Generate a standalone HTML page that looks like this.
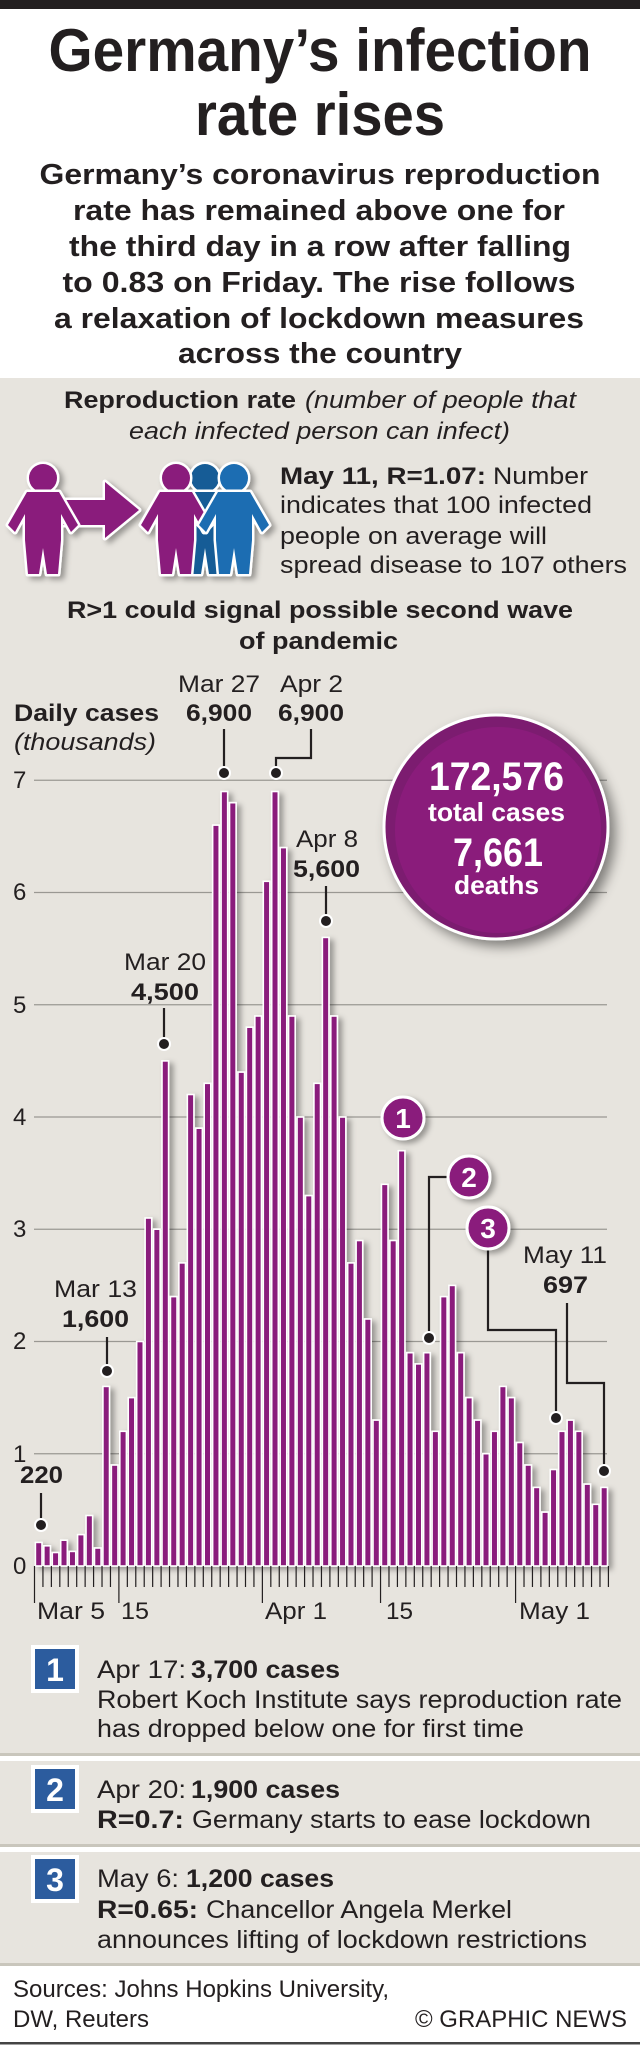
<!DOCTYPE html>
<html><head><meta charset="utf-8"><style>
html,body{margin:0;padding:0;background:#fff}
svg{display:block}
text{font-family:"Liberation Sans",Arial,sans-serif;fill:#231f20}
.b{font-weight:bold}
.i{font-style:italic}
</style></head><body>
<svg width="640" height="2052" viewBox="0 0 640 2052" xmlns="http://www.w3.org/2000/svg">
<defs>
<filter id="sh" x="-20%" y="-20%" width="140%" height="140%"><feDropShadow dx="4" dy="3" stdDeviation="3" flood-color="#000" flood-opacity="0.35"/></filter>
<filter id="sh2" x="-20%" y="-20%" width="150%" height="150%"><feDropShadow dx="6" dy="6" stdDeviation="6" flood-color="#000" flood-opacity="0.45"/></filter>
</defs>
<rect x="0" y="0" width="640" height="2052" fill="#fff"/>
<rect x="0" y="0" width="640" height="9" fill="#231f20"/>
<rect x="0" y="378" width="640" height="1589" fill="#e7e4de"/>

<text class="b" x="320" y="71" font-size="60" text-anchor="middle" textLength="543" lengthAdjust="spacingAndGlyphs">Germany’s infection</text>
<text class="b" x="320" y="135" font-size="60" text-anchor="middle" textLength="250" lengthAdjust="spacingAndGlyphs">rate rises</text>

<g class="b" font-size="29" text-anchor="middle">
<text class="b" x="320" y="184" textLength="561" lengthAdjust="spacingAndGlyphs">Germany’s coronavirus reproduction</text>
<text class="b" x="319" y="220" textLength="492" lengthAdjust="spacingAndGlyphs">rate has remained above one for</text>
<text class="b" x="320" y="256" textLength="502" lengthAdjust="spacingAndGlyphs">the third day in a row after falling</text>
<text class="b" x="319" y="292" textLength="513" lengthAdjust="spacingAndGlyphs">to 0.83 on Friday. The rise follows</text>
<text class="b" x="319" y="328" textLength="530" lengthAdjust="spacingAndGlyphs">a relaxation of lockdown measures</text>
<text class="b" x="320" y="363" textLength="284" lengthAdjust="spacingAndGlyphs">across the country</text>
</g>

<text class="b" x="64" y="408" font-size="24" textLength="232" lengthAdjust="spacingAndGlyphs">Reproduction rate</text>
<text class="i" x="305" y="408" font-size="24" textLength="271" lengthAdjust="spacingAndGlyphs">(number of people that</text>
<text class="i" x="129" y="439" font-size="24" textLength="381" lengthAdjust="spacingAndGlyphs">each infected person can infect)</text>

<!-- icons -->
<g stroke="#fff" stroke-width="5" stroke-linejoin="round" paint-order="stroke" filter="url(#sh)">
<polygon points="63,500 105,500 105,482 139,510 105,538 105,525 63,525" fill="#8a1c7b"/>
<g fill="#135c96">
<circle cx="205" cy="478" r="14"/>
<polygon points="189,492 221,492 240,525 233,532 223,514 223,540 220,574 209,574 205,548 201,574 190,574 187,540 187,514 177,532 170,525"/>
</g>
<g fill="#8a1c7b">
<circle cx="43" cy="478" r="14"/>
<polygon points="27,492 59,492 78,525 71,532 61,514 61,540 58,574 47,574 43,548 39,574 28,574 25,540 25,514 15,532 8,525"/>
<circle cx="176" cy="478" r="14"/>
<polygon points="160,492 192,492 211,525 204,532 194,514 194,540 191,574 180,574 176,548 172,574 161,574 158,540 158,514 148,532 141,525"/>
</g>
<g fill="#1a6db2">
<circle cx="234" cy="478" r="14"/>
<polygon points="218,492 250,492 269,525 262,532 252,514 252,540 249,574 238,574 234,548 230,574 219,574 216,540 216,514 206,532 199,525"/>
</g>
</g>

<text class="b" x="280" y="484" font-size="24" textLength="206" lengthAdjust="spacingAndGlyphs">May 11, R=1.07:</text>
<text x="493" y="484" font-size="24" textLength="95" lengthAdjust="spacingAndGlyphs">Number</text>
<text x="280" y="513" font-size="24" textLength="312" lengthAdjust="spacingAndGlyphs">indicates that 100 infected</text>
<text x="280" y="544" font-size="24" textLength="267" lengthAdjust="spacingAndGlyphs">people on average will</text>
<text x="280" y="573" font-size="24" textLength="347" lengthAdjust="spacingAndGlyphs">spread disease to 107 others</text>

<text class="b" x="67" y="618" font-size="24" textLength="506" lengthAdjust="spacingAndGlyphs">R&gt;1 could signal possible second wave</text>
<text class="b" x="239" y="649" font-size="24" textLength="159" lengthAdjust="spacingAndGlyphs">of pandemic</text>

<text class="b" x="14" y="721" font-size="24" textLength="145" lengthAdjust="spacingAndGlyphs">Daily cases</text>
<text class="i" x="14" y="750" font-size="24" textLength="142" lengthAdjust="spacingAndGlyphs">(thousands)</text>

<!-- gridlines -->
<g stroke="#9a9893" stroke-width="1.2">
<line x1="34" y1="780.25" x2="607" y2="780.25"/>
<line x1="34" y1="892.5" x2="607" y2="892.5"/>
<line x1="34" y1="1004.75" x2="607" y2="1004.75"/>
<line x1="34" y1="1117" x2="607" y2="1117"/>
<line x1="34" y1="1229.25" x2="607" y2="1229.25"/>
<line x1="34" y1="1341.5" x2="607" y2="1341.5"/>
<line x1="34" y1="1453.75" x2="607" y2="1453.75"/>
</g>
<g font-size="24" fill="#231f20">
<text x="13" y="788">7</text><text x="13" y="900">6</text><text x="13" y="1013">5</text><text x="13" y="1125">4</text><text x="13" y="1237">3</text><text x="13" y="1349">2</text><text x="13" y="1462">1</text><text x="13" y="1574">0</text>
</g>

<!-- bars -->
<g fill="#8a1c7b" stroke="#fff" stroke-width="1.6" filter="url(#sh)">
<rect x="35.4" y="1542.4" width="6.6" height="23.6"/>
<rect x="43.84" y="1545.8" width="6.6" height="20.2"/>
<rect x="52.28" y="1552.5" width="6.6" height="13.5"/>
<rect x="60.72" y="1540.2" width="6.6" height="25.8"/>
<rect x="69.16" y="1551.4" width="6.6" height="14.6"/>
<rect x="77.6" y="1534.6" width="6.6" height="31.4"/>
<rect x="86.04" y="1515.5" width="6.6" height="50.5"/>
<rect x="94.48" y="1548" width="6.6" height="18"/>
<rect x="102.92" y="1386.4" width="6.6" height="179.6"/>
<rect x="111.36" y="1465" width="6.6" height="101"/>
<rect x="119.8" y="1431.3" width="6.6" height="134.7"/>
<rect x="128.24" y="1397.6" width="6.6" height="168.4"/>
<rect x="136.68" y="1341.5" width="6.6" height="224.5"/>
<rect x="145.12" y="1218" width="6.6" height="348"/>
<rect x="153.56" y="1229.2" width="6.6" height="336.8"/>
<rect x="162" y="1060.9" width="6.6" height="505.1"/>
<rect x="170.44" y="1296.6" width="6.6" height="269.4"/>
<rect x="178.88" y="1262.9" width="6.6" height="303.1"/>
<rect x="187.32" y="1094.5" width="6.6" height="471.5"/>
<rect x="195.76" y="1128.2" width="6.6" height="437.8"/>
<rect x="204.2" y="1083.3" width="6.6" height="482.7"/>
<rect x="212.64" y="825.1" width="6.6" height="740.9"/>
<rect x="221.08" y="791.5" width="6.6" height="774.5"/>
<rect x="229.52" y="802.7" width="6.6" height="763.3"/>
<rect x="237.96" y="1072.1" width="6.6" height="493.9"/>
<rect x="246.4" y="1027.2" width="6.6" height="538.8"/>
<rect x="254.84" y="1016" width="6.6" height="550"/>
<rect x="263.28" y="881.3" width="6.6" height="684.7"/>
<rect x="271.72" y="791.5" width="6.6" height="774.5"/>
<rect x="280.16" y="847.6" width="6.6" height="718.4"/>
<rect x="288.6" y="1016" width="6.6" height="550"/>
<rect x="297.04" y="1117" width="6.6" height="449"/>
<rect x="305.48" y="1195.6" width="6.6" height="370.4"/>
<rect x="313.92" y="1083.3" width="6.6" height="482.7"/>
<rect x="322.36" y="937.4" width="6.6" height="628.6"/>
<rect x="330.8" y="1016" width="6.6" height="550"/>
<rect x="339.24" y="1117" width="6.6" height="449"/>
<rect x="347.68" y="1262.9" width="6.6" height="303.1"/>
<rect x="356.12" y="1240.5" width="6.6" height="325.5"/>
<rect x="364.56" y="1319" width="6.6" height="247"/>
<rect x="373" y="1420.1" width="6.6" height="145.9"/>
<rect x="381.44" y="1184.3" width="6.6" height="381.7"/>
<rect x="389.88" y="1240.5" width="6.6" height="325.5"/>
<rect x="398.32" y="1150.7" width="6.6" height="415.3"/>
<rect x="406.76" y="1352.7" width="6.6" height="213.3"/>
<rect x="415.2" y="1363.9" width="6.6" height="202.1"/>
<rect x="423.64" y="1352.7" width="6.6" height="213.3"/>
<rect x="432.08" y="1431.3" width="6.6" height="134.7"/>
<rect x="440.52" y="1296.6" width="6.6" height="269.4"/>
<rect x="448.96" y="1285.4" width="6.6" height="280.6"/>
<rect x="457.4" y="1352.7" width="6.6" height="213.3"/>
<rect x="465.84" y="1397.6" width="6.6" height="168.4"/>
<rect x="474.28" y="1420.1" width="6.6" height="145.9"/>
<rect x="482.72" y="1453.7" width="6.6" height="112.3"/>
<rect x="491.16" y="1431.3" width="6.6" height="134.7"/>
<rect x="499.6" y="1386.4" width="6.6" height="179.6"/>
<rect x="508.04" y="1397.6" width="6.6" height="168.4"/>
<rect x="516.48" y="1442.5" width="6.6" height="123.5"/>
<rect x="524.92" y="1465" width="6.6" height="101"/>
<rect x="533.36" y="1487.4" width="6.6" height="78.6"/>
<rect x="541.8" y="1512.1" width="6.6" height="53.9"/>
<rect x="550.24" y="1469.5" width="6.6" height="96.5"/>
<rect x="558.68" y="1431.3" width="6.6" height="134.7"/>
<rect x="567.12" y="1420.1" width="6.6" height="145.9"/>
<rect x="575.56" y="1431.3" width="6.6" height="134.7"/>
<rect x="584" y="1484.1" width="6.6" height="81.9"/>
<rect x="592.44" y="1504.3" width="6.6" height="61.7"/>
<rect x="600.88" y="1487.4" width="6.6" height="78.6"/>
</g>

<!-- ticks -->
<path stroke="#231f20" stroke-width="1.2" fill="none" d="M34.5 1566V1603M42.94 1566V1587M51.38 1566V1587M59.82 1566V1587M68.26 1566V1587M76.7 1566V1587M85.14 1566V1587M93.58 1566V1587M102.02 1566V1587M110.46 1566V1587M118.9 1566V1603M127.34 1566V1587M135.78 1566V1587M144.22 1566V1587M152.66 1566V1587M161.1 1566V1587M169.54 1566V1587M177.98 1566V1587M186.42 1566V1587M194.86 1566V1587M203.3 1566V1587M211.74 1566V1587M220.18 1566V1587M228.62 1566V1587M237.06 1566V1587M245.5 1566V1587M253.94 1566V1587M262.38 1566V1603M270.82 1566V1587M279.26 1566V1587M287.7 1566V1587M296.14 1566V1587M304.58 1566V1587M313.02 1566V1587M321.46 1566V1587M329.9 1566V1587M338.34 1566V1587M346.78 1566V1587M355.22 1566V1587M363.66 1566V1587M372.1 1566V1587M380.54 1566V1603M388.98 1566V1587M397.42 1566V1587M405.86 1566V1587M414.3 1566V1587M422.74 1566V1587M431.18 1566V1587M439.62 1566V1587M448.06 1566V1587M456.5 1566V1587M464.94 1566V1587M473.38 1566V1587M481.82 1566V1587M490.26 1566V1587M498.7 1566V1587M507.14 1566V1587M515.58 1566V1603M524.02 1566V1587M532.46 1566V1587M540.9 1566V1587M549.34 1566V1587M557.78 1566V1587M566.22 1566V1587M574.66 1566V1587M583.1 1566V1587M591.54 1566V1587M599.98 1566V1587M608.42 1566V1587"/>
<g font-size="24">
<text x="37" y="1619" textLength="68" lengthAdjust="spacingAndGlyphs">Mar 5</text>
<text x="121" y="1619" textLength="28" lengthAdjust="spacingAndGlyphs">15</text>
<text x="265" y="1619" textLength="62" lengthAdjust="spacingAndGlyphs">Apr 1</text>
<text x="386" y="1619" textLength="27" lengthAdjust="spacingAndGlyphs">15</text>
<text x="519" y="1619" textLength="71" lengthAdjust="spacingAndGlyphs">May 1</text>
</g>

<!-- leaders -->
<g stroke="#231f20" stroke-width="2.2" fill="none">
<path d="M41 1493V1525"/>
<path d="M107 1337V1371"/>
<path d="M164 1008V1044"/>
<path d="M224 729V773"/>
<path d="M276 773V758H311V729"/>
<path d="M326 886V921"/>
<path d="M448 1177H429V1338"/>
<path d="M488 1250V1330H556V1418"/>
<path d="M567 1303V1383H604V1471"/>
</g>
<g fill="#231f20" stroke="#fff" stroke-width="2">
<circle cx="41" cy="1525" r="6"/><circle cx="107" cy="1371" r="6"/><circle cx="164" cy="1044" r="6"/>
<circle cx="224" cy="773" r="6"/><circle cx="276" cy="773" r="6"/><circle cx="326" cy="921" r="6"/>
<circle cx="429" cy="1338" r="6"/><circle cx="556" cy="1418" r="6"/><circle cx="604" cy="1471" r="6"/>
</g>

<g font-size="24">
<text x="178" y="692" textLength="82" lengthAdjust="spacingAndGlyphs">Mar 27</text>
<text class="b" x="186" y="721" textLength="66" lengthAdjust="spacingAndGlyphs">6,900</text>
<text x="280" y="692" textLength="63" lengthAdjust="spacingAndGlyphs">Apr 2</text>
<text class="b" x="278" y="721" textLength="66" lengthAdjust="spacingAndGlyphs">6,900</text>
<text x="296" y="847" textLength="62" lengthAdjust="spacingAndGlyphs">Apr 8</text>
<text class="b" x="293" y="877" textLength="67" lengthAdjust="spacingAndGlyphs">5,600</text>
<text x="124" y="970" textLength="82" lengthAdjust="spacingAndGlyphs">Mar 20</text>
<text class="b" x="131" y="1000" textLength="68" lengthAdjust="spacingAndGlyphs">4,500</text>
<text x="54" y="1297" textLength="83" lengthAdjust="spacingAndGlyphs">Mar 13</text>
<text class="b" x="62" y="1327" textLength="67" lengthAdjust="spacingAndGlyphs">1,600</text>
<text class="b" x="20" y="1483" textLength="43" lengthAdjust="spacingAndGlyphs">220</text>
<text x="523" y="1263" textLength="84" lengthAdjust="spacingAndGlyphs">May 11</text>
<text class="b" x="543" y="1293" textLength="45" lengthAdjust="spacingAndGlyphs">697</text>
</g>

<!-- numbered circles -->
<g filter="url(#sh)">
<circle cx="403" cy="1118" r="21" fill="#8a1c7b" stroke="#fff" stroke-width="3"/>
<circle cx="469" cy="1177" r="21" fill="#8a1c7b" stroke="#fff" stroke-width="3"/>
<circle cx="488" cy="1228" r="21" fill="#8a1c7b" stroke="#fff" stroke-width="3"/>
</g>
<g font-size="28" text-anchor="middle">
<text class="b" x="403" y="1128" style="fill:#fff">1</text>
<text class="b" x="469" y="1187" style="fill:#fff">2</text>
<text class="b" x="488" y="1238" style="fill:#fff">3</text>
</g>

<!-- big circle -->
<circle cx="496" cy="827" r="112" fill="#7b1a70" stroke="#fff" stroke-width="3" filter="url(#sh2)"/>
<circle cx="498" cy="830" r="103" fill="#8a1c7b"/>
<text class="b" x="429" y="790" font-size="40" textLength="135" lengthAdjust="spacingAndGlyphs" style="fill:#fff">172,576</text>
<text class="b" x="428" y="821" font-size="26" textLength="137" lengthAdjust="spacingAndGlyphs" style="fill:#fff">total cases</text>
<text class="b" x="453" y="866" font-size="40" textLength="90" lengthAdjust="spacingAndGlyphs" style="fill:#fff">7,661</text>
<text class="b" x="454" y="894" font-size="26" textLength="85" lengthAdjust="spacingAndGlyphs" style="fill:#fff">deaths</text>

<!-- notes -->
<rect x="0" y="1753" width="640" height="3" fill="#c9c6bc"/>
<rect x="0" y="1756" width="640" height="5" fill="#fff"/>
<rect x="0" y="1844" width="640" height="3" fill="#c9c6bc"/>
<rect x="0" y="1847" width="640" height="5" fill="#fff"/>
<rect x="0" y="1963" width="640" height="3" fill="#c9c6bc"/>
<rect x="0" y="1966" width="640" height="76" fill="#fff"/>
<rect x="0" y="2042" width="640" height="2.5" fill="#444"/>

<g fill="#fff"><rect x="31" y="1645" width="48" height="48"/><rect x="31" y="1765" width="48" height="48"/><rect x="31" y="1855" width="48" height="48"/></g>
<g fill="#2c5c9e"><rect x="35" y="1649" width="40" height="40"/><rect x="35" y="1769" width="40" height="40"/><rect x="35" y="1859" width="40" height="40"/></g>
<g font-size="32" text-anchor="middle">
<text class="b" x="55" y="1681" style="fill:#fff">1</text>
<text class="b" x="55" y="1801" style="fill:#fff">2</text>
<text class="b" x="55" y="1891" style="fill:#fff">3</text>
</g>

<g font-size="25">
<text x="97" y="1678" textLength="89" lengthAdjust="spacingAndGlyphs">Apr 17:</text>
<text class="b" x="191" y="1678" textLength="149" lengthAdjust="spacingAndGlyphs">3,700 cases</text>
<text x="97" y="1708" textLength="525" lengthAdjust="spacingAndGlyphs">Robert Koch Institute says reproduction rate</text>
<text x="97" y="1737" textLength="427" lengthAdjust="spacingAndGlyphs">has dropped below one for first time</text>
<text x="97" y="1798" textLength="89" lengthAdjust="spacingAndGlyphs">Apr 20:</text>
<text class="b" x="191" y="1798" textLength="149" lengthAdjust="spacingAndGlyphs">1,900 cases</text>
<text class="b" x="97" y="1828" textLength="87" lengthAdjust="spacingAndGlyphs">R=0.7:</text>
<text x="192" y="1828" textLength="399" lengthAdjust="spacingAndGlyphs">Germany starts to ease lockdown</text>
<text x="97" y="1887" textLength="82" lengthAdjust="spacingAndGlyphs">May 6:</text>
<text class="b" x="186" y="1887" textLength="148" lengthAdjust="spacingAndGlyphs">1,200 cases</text>
<text class="b" x="97" y="1918" textLength="101" lengthAdjust="spacingAndGlyphs">R=0.65:</text>
<text x="206" y="1918" textLength="306" lengthAdjust="spacingAndGlyphs">Chancellor Angela Merkel</text>
<text x="97" y="1948" textLength="490" lengthAdjust="spacingAndGlyphs">announces lifting of lockdown restrictions</text>
</g>

<g font-size="24">
<text x="13" y="1997" textLength="376" lengthAdjust="spacingAndGlyphs">Sources: Johns Hopkins University,</text>
<text x="13" y="2027" textLength="136" lengthAdjust="spacingAndGlyphs">DW, Reuters</text>
<text x="415" y="2027" textLength="212" lengthAdjust="spacingAndGlyphs">© GRAPHIC NEWS</text>
</g>
</svg>
</body></html>
